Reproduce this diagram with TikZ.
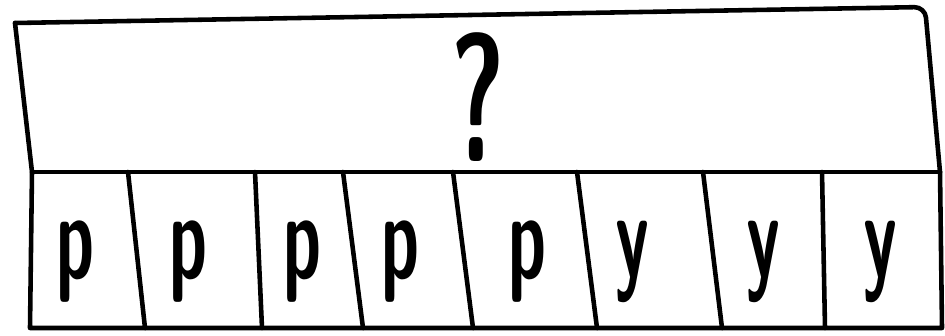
\documentclass[tikz,border=0pt]{standalone}
\usepackage{tikz}
\usetikzlibrary{positioning}

\begin{document}
\begin{tikzpicture}[
        x=0.02cm, y=-0.02cm,
        % --- TikZ Styles ---
        sketch/.style={line width=2.6pt, line cap=round, line join=round},
        letter/.style={font=\sffamily\bfseries\fontsize{70}{70}\selectfont, inner sep=0pt, xscale=0.55},
        query/.style={font=\sffamily\bfseries\fontsize{104}{104}\selectfont, inner sep=0pt, xscale=0.58}
    ]
    \useasboundingbox (0,0) rectangle (945,335);

    % --- 1. OUTLINE ---
    \coordinate (tl) at (15,23);
    \coordinate (tr) at (925,7);
    \coordinate (ml) at (32,172);
    \coordinate (mr) at (940,172);
    \coordinate (bl) at (30,328);
    \coordinate (br) at (942,328);

    \draw[sketch, rounded corners=6pt] (tl) -- (tr) -- (mr);
    \draw[sketch] (mr) -- (br) -- (bl) -- (ml) -- (tl);
    \draw[sketch] (ml) -- (mr);

    % --- 2. DIVIDERS ---
    \foreach \a/\b in {128/145, 255/262, 343/363, 453/473, 577/597, 703/722, 822/825}
        \draw[sketch] (\a,172) -- (\b,328);

    % --- 3. TEXTS ---
    \node[query] (unknown) at (478,97) {?};

    \foreach \x/\l [count=\i] in {75/p, 188/p, 302/p, 400/p, 527/p, 632/y, 763/y, 880/y}
        \node[letter] (cell\i) at (\x,262) {\l};

\end{tikzpicture}
\end{document}
